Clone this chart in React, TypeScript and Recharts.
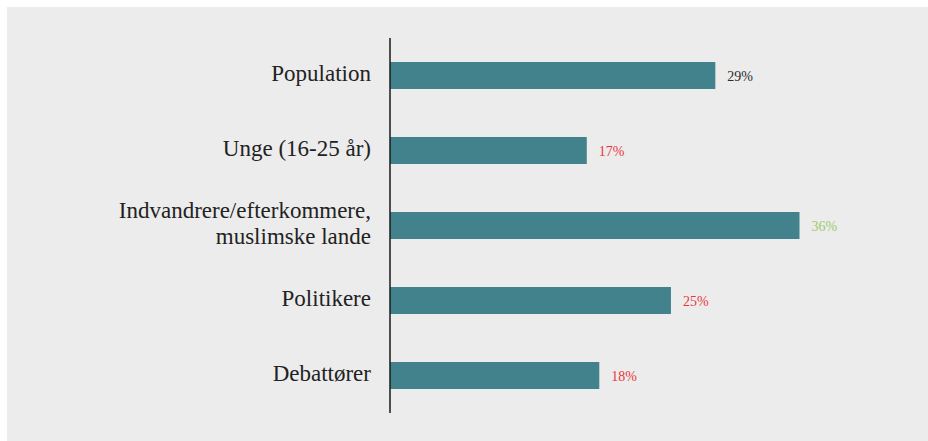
import React from 'react';
import { BarChart, Bar, XAxis, YAxis, LabelList } from 'recharts';

const categories = ['Population', 'Unge (16-25 år)', 'Indvandrere/efterkommere,\nmuslimske lande', 'Politikere', 'Debattører'];
const shares = [28.6, 17.3, 36.0, 24.7, 18.4];
const labelColors = ['#2b2b2b', '#e8383d', '#9ccb6b', '#e8383d', '#e8383d'];

const data = categories.map((name, i) => ({ name, value: shares[i] }));

const FONT = '"Liberation Serif", "Times New Roman", serif';

const CategoryTick = (props: any) => {
  const { x, y, payload } = props;
  const lines = String(payload.value).split('\n');
  const lineHeight = 26;
  const startDy = -((lines.length - 1) * lineHeight) / 2;
  return (
    <text x={x - 11} y={y} textAnchor="end" fontFamily={FONT} fontSize={23} fill="#222">
      {lines.map((line, i) => (
        <tspan key={i} x={x - 11} dy={i === 0 ? startDy + 5 : lineHeight}>{line}</tspan>
      ))}
    </text>
  );
};

const ValueLabel = (props: any) => {
  const { x, y, width, height, value, index } = props;
  return (
    <text x={x + width + 12} y={y + height / 2 + 5} fontFamily={FONT} fontSize={14} fill={labelColors[index]}>
      {Math.round(value)}%
    </text>
  );
};

export default function App() {
  return (
    <div style={{ position: 'absolute', left: 7, top: 7, width: 921, height: 434, background: '#ececec' }}>
      <BarChart
        width={921}
        height={434}
        layout="vertical"
        data={data}
        margin={{ top: 31, right: 83, bottom: 28, left: 0 }}
      >
        <XAxis type="number" domain={[0, 40]} hide />
        <YAxis
          type="category"
          dataKey="name"
          width={383}
          tickLine={false}
          axisLine={{ stroke: '#1a1a1a', strokeWidth: 1.5 }}
          tick={<CategoryTick />}
          interval={0}
        />
        <Bar dataKey="value" fill="#41828c" barSize={27} isAnimationActive={false}>
          <LabelList dataKey="value" content={<ValueLabel />} />
        </Bar>
      </BarChart>
    </div>
  );
}
